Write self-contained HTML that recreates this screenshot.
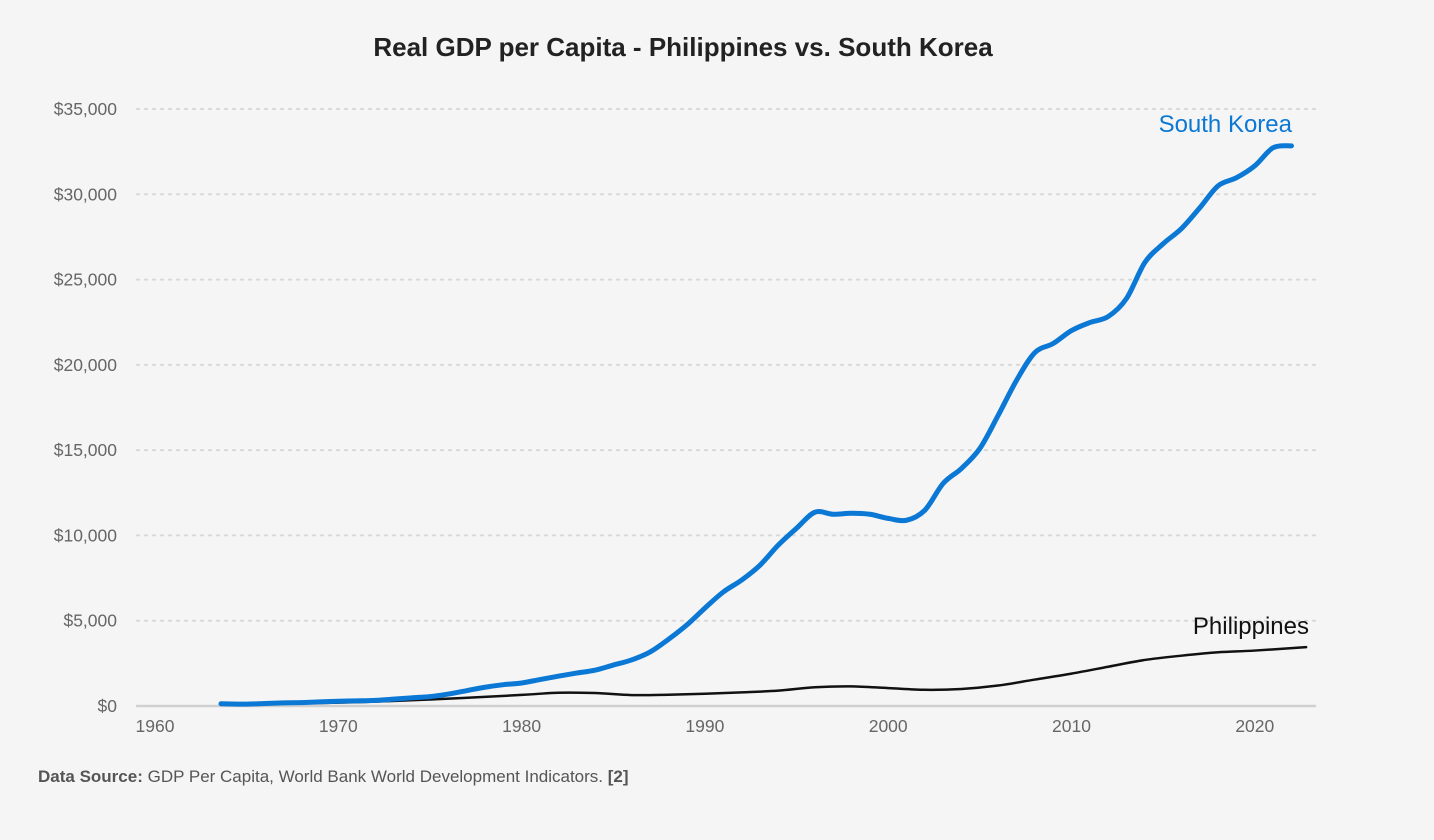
<!DOCTYPE html>
<html><head><meta charset="utf-8"><style>
body{margin:0;background:#f5f5f5;font-family:"Liberation Sans",sans-serif;}
svg{display:block}
</style></head><body>
<svg id="chart" width="1434" height="840" viewBox="0 0 1434 840">
<rect width="1434" height="840" fill="#f5f5f5"/>
<text x="683" y="56" text-anchor="middle" font-size="26" font-weight="bold" fill="#222">Real GDP per Capita - Philippines vs. South Korea</text>
<g id="grid"></g><g id="yt"></g><g id="xt"></g><g id="lines"></g>
<text x="1292" y="132" text-anchor="end" font-size="24" fill="#0a78d4">South Korea</text>
<text x="1309" y="634" text-anchor="end" font-size="24" fill="#111">Philippines</text>
<text x="38" y="782" font-size="17" fill="#555"><tspan font-weight="bold">Data Source:</tspan> GDP Per Capita, World Bank World Development Indicators. <tspan font-weight="bold">[2]</tspan></text>
</svg>
<script>
const yTicks=[0,5000,10000,15000,20000,25000,30000,35000];
const xTicks=[1960,1970,1980,1990,2000,2010,2020];
const krYears=[1963.6,1965,1966,1967,1968,1969,1970,1971,1972,1973,1974,1975,1976,1977,1978,1979,1980,1981,1982,1983,1984,1985,1986,1987,1988,1989,1990,1991,1992,1993,1994,1995,1996,1997,1998,1999,2000,2001,2002,2003,2004,2005,2006,2007,2008,2009,2010,2011,2012,2013,2014,2015,2016,2017,2018,2019,2020,2021,2022];
const krValues=[130,110,150,180,200,240,280,300,330,400,480,550,700,900,1100,1250,1350,1550,1750,1930,2100,2400,2700,3160,3900,4740,5740,6680,7380,8250,9430,10420,11360,11240,11300,11240,11000,10890,11480,13050,13930,15100,17040,19090,20720,21250,22010,22480,22830,23890,26000,27100,27990,29210,30500,30970,31670,32730,32840];
const phYears=[1963.6,1966,1970,1975,1980,1982,1984,1986,1988,1990,1992,1994,1996,1998,2000,2002,2004,2006,2008,2010,2012,2014,2016,2018,2020,2022.8];
const phValues=[150,160,200,380,650,780,760,640,660,720,800,900,1100,1150,1050,950,1000,1200,1550,1900,2300,2700,2950,3150,3250,3450];
const NS='http://www.w3.org/2000/svg';
const X=y=>155+(y-1960)*18.33;
const Y=v=>706-v*(597/35000);
function mk(t,a,p){const e=document.createElementNS(NS,t);for(const k in a)e.setAttribute(k,a[k]);document.getElementById(p).appendChild(e);return e;}
yTicks.forEach(v=>{
  const l=mk('line',{x1:137,x2:1315,y1:Y(v),y2:Y(v),stroke:v?'#d6d6d6':'#d0d0d0','stroke-width':v?2:2.5,'stroke-dasharray':v?'2 6':'none','stroke-linecap':'round'},'grid');
  
  
  const t=mk('text',{x:117,y:Y(v)+6,'text-anchor':'end','font-size':17.5,fill:'#666'},'yt');
  t.textContent='$'+v.toLocaleString('en-US');
  
  
});
xTicks.forEach(y=>{
  const t=mk('text',{x:X(y),y:732,'text-anchor':'middle','font-size':17.5,fill:'#666'},'xt');
  t.textContent=y;
  
  
});
function path(xs,vs){
  const p=xs.map((x,i)=>[X(x),Y(vs[i])]);
  let d='M'+p[0][0]+','+p[0][1];
  for(let i=0;i<p.length-1;i++){
    const p0=p[i-1]||p[i],p1=p[i],p2=p[i+1],p3=p[i+2]||p2;
    const c1=[p1[0]+(p2[0]-p0[0])/6,p1[1]+(p2[1]-p0[1])/6];
    const c2=[p2[0]-(p3[0]-p1[0])/6,p2[1]-(p3[1]-p1[1])/6];
    d+=`C${c1[0]},${c1[1]} ${c2[0]},${c2[1]} ${p2[0]},${p2[1]}`;
  }
  return d;
}
const ph=mk('path',{d:path(phYears,phValues),fill:'none',stroke:'#111','stroke-width':2.5,'stroke-linecap':'round'},'lines');


const kr=mk('path',{d:path(krYears,krValues),fill:'none',stroke:'#0a78d4','stroke-width':5,'stroke-linecap':'round','stroke-linejoin':'round'},'lines');


</script>
</body></html>
